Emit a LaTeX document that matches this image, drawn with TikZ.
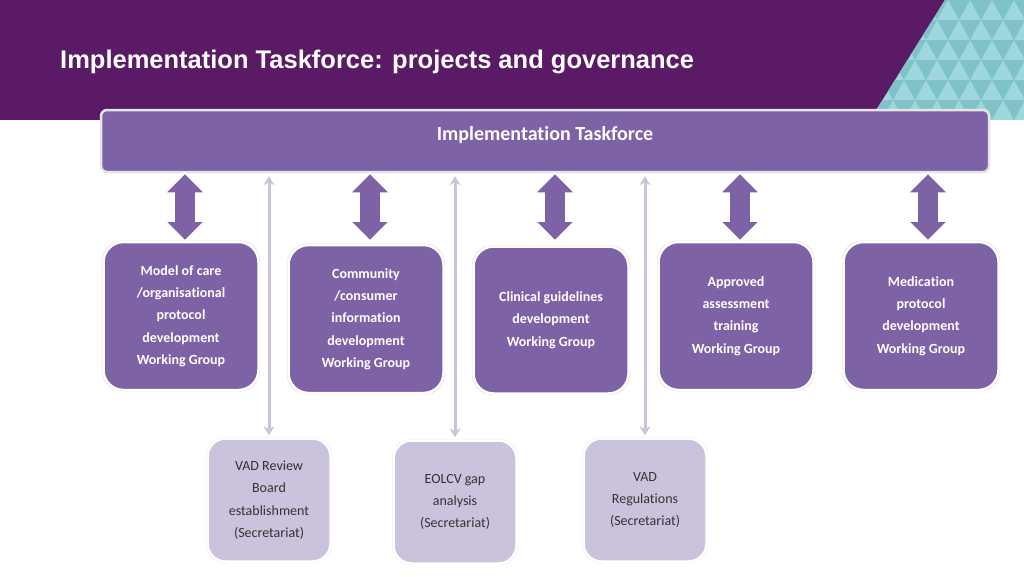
\documentclass[tikz,border=0pt]{standalone}
\usepackage{fontspec}
\setmainfont[Ligatures=NoCommon]{Carlito}
\newfontfamily\titlefont{Liberation Sans}
\usetikzlibrary{shapes.arrows,arrows.meta}
\definecolor{hdr}{HTML}{5B1A66}
\definecolor{box}{HTML}{7E62A6}
\definecolor{lbox}{HTML}{CBC2DD}
\definecolor{tl}{HTML}{9ED8DC}
\definecolor{td}{HTML}{7FC3C9}
\tikzset{
 wg/.style={draw=white,line width=2.5pt,fill=box,rounded corners=20pt,minimum width=155pt,text=white,align=center,font=\fontsize{14}{22.3}\selectfont\bfseries,inner sep=0pt,drop shadow={shadow xshift=0pt,shadow yshift=0pt,opacity=0.25,shadow scale=1.02}},
 sec/.style={draw=white,line width=2.5pt,fill=lbox,rounded corners=18pt,minimum width=123pt,minimum height=123pt,text=black!80,align=center,font=\fontsize{14}{22.3}\selectfont,inner sep=0pt,drop shadow={shadow xshift=0pt,shadow yshift=0pt,opacity=0.25,shadow scale=1.02}},
 fat/.style={double arrow,draw=white,line width=1.5pt,fill=box,rotate=90,minimum height=68pt,minimum width=40pt,double arrow head extend=4pt,inner sep=4pt},
 thin/.style={draw=lbox,line width=3pt,shorten <=2pt,shorten >=3pt,{Stealth[length=9pt,width=11pt]}-{Stealth[length=9pt,width=11pt]}}
}
\usetikzlibrary{shadows}
\begin{document}
\begin{tikzpicture}[x=1pt,y=-1pt]
\useasboundingbox (0,0) rectangle (1024,576);
\fill[hdr] (0,0) rectangle (1024,120);
\begin{scope}
\clip (945,0) -- (1024,0) -- (1024,120) -- (870,120) -- cycle;
\fill[tl] (860,0) rectangle (1024,120);
\foreach \r in {0,...,5}{
 \foreach \c in {0,...,8}{
  \pgfmathsetmacro{\xx}{860+\c*22+mod(\r,2)*11}
  \pgfmathsetmacro{\yy}{\r*20}
  \fill[td] (\xx,\yy) -- (\xx+22,\yy) -- (\xx+11,\yy+20) -- cycle;
 }}
\end{scope}
\node[anchor=west,inner sep=0pt,text=white,font=\titlefont\bfseries\fontsize{25.5}{28}\selectfont] (title) at (60,62) {Implementation Taskforce: projects and governance};
\node[draw=white!90!black,line width=2.5pt,fill=box,rounded corners=6pt,minimum width=888pt,minimum height=62pt] (tf) at (545,141) {};
\node[text=white,font=\fontsize{20}{24}\selectfont\bfseries] (tft) at (545,135) {Implementation Taskforce};
\node[wg,minimum height=148pt] (w1) at (181,316) {Model of care\\/organisational\\protocol\\development\\Working Group};
\node[wg,minimum height=148pt] (w2) at (366,319) {Community\\/consumer\\information\\development\\Working Group};
\node[wg,minimum height=147pt] (w3) at (551,320) {Clinical guidelines\\development\\Working Group};
\node[wg,minimum height=148pt] (w4) at (736,316) {Approved\\assessment\\training\\Working Group};
\node[wg,minimum height=148pt] (w5) at (921,316) {Medication\\protocol\\development\\Working Group};
\foreach \n/\x in {w1/185,w2/370,w3/555,w4/740,w5/928}{
 \node[fat] (f\n) at (\x,207) {};
}
\node[sec] (s1) at (269,500) {VAD Review\\Board\\establishment\\(Secretariat)};
\node[sec] (s2) at (455,502) {EOLCV gap\\analysis\\(Secretariat)};
\node[sec] (s3) at (645,500) {VAD\\Regulations\\(Secretariat)};
\foreach \s in {s1,s2,s3}{
 \draw[thin] (\s.north) -- (\s.north |- tf.south);
}
\end{tikzpicture}
\end{document}
